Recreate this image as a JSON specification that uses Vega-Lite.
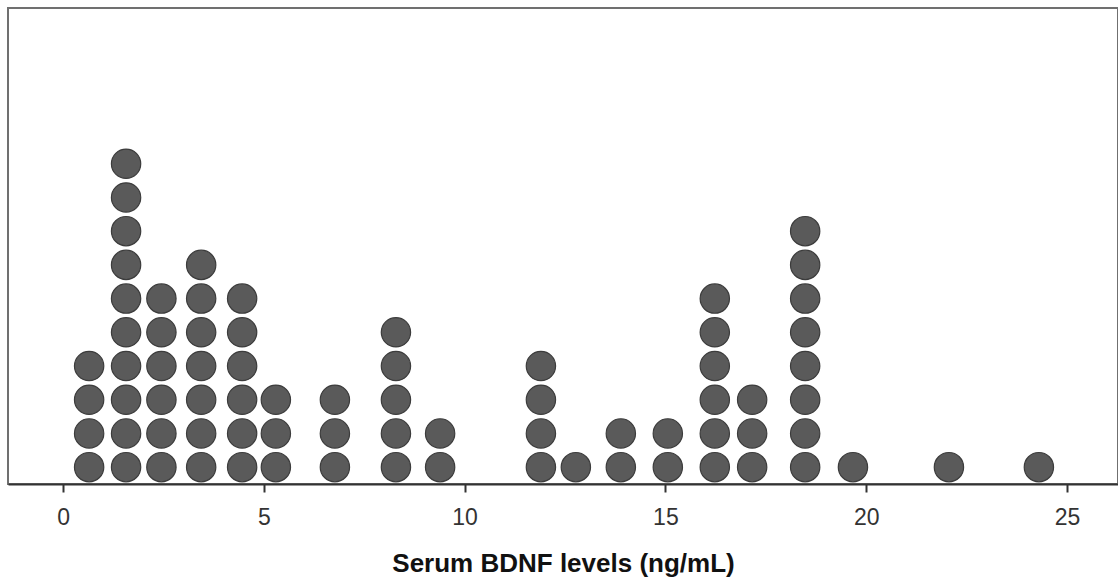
{
  "$schema": "https://vega.github.io/schema/vega-lite/v6.json",
  "autosize": "none",
  "width": 1110,
  "height": 476,
  "padding": {"left": 8, "top": 8, "right": 0, "bottom": 94},
  "background": "white",
  "config": {"view": {"stroke": "#707070", "strokeWidth": 2}},
  "data": {"values": [
    {"v":0.65,"k":1},{"v":0.65,"k":2},{"v":0.65,"k":3},{"v":0.65,"k":4},
    {"v":1.57,"k":1},{"v":1.57,"k":2},{"v":1.57,"k":3},{"v":1.57,"k":4},{"v":1.57,"k":5},{"v":1.57,"k":6},{"v":1.57,"k":7},{"v":1.57,"k":8},{"v":1.57,"k":9},{"v":1.57,"k":10},
    {"v":2.45,"k":1},{"v":2.45,"k":2},{"v":2.45,"k":3},{"v":2.45,"k":4},{"v":2.45,"k":5},{"v":2.45,"k":6},
    {"v":3.44,"k":1},{"v":3.44,"k":2},{"v":3.44,"k":3},{"v":3.44,"k":4},{"v":3.44,"k":5},{"v":3.44,"k":6},{"v":3.44,"k":7},
    {"v":4.46,"k":1},{"v":4.46,"k":2},{"v":4.46,"k":3},{"v":4.46,"k":4},{"v":4.46,"k":5},{"v":4.46,"k":6},
    {"v":5.30,"k":1},{"v":5.30,"k":2},{"v":5.30,"k":3},
    {"v":6.77,"k":1},{"v":6.77,"k":2},{"v":6.77,"k":3},
    {"v":8.29,"k":1},{"v":8.29,"k":2},{"v":8.29,"k":3},{"v":8.29,"k":4},{"v":8.29,"k":5},
    {"v":9.39,"k":1},{"v":9.39,"k":2},
    {"v":11.90,"k":1},{"v":11.90,"k":2},{"v":11.90,"k":3},{"v":11.90,"k":4},
    {"v":12.77,"k":1},
    {"v":13.89,"k":1},{"v":13.89,"k":2},
    {"v":15.06,"k":1},{"v":15.06,"k":2},
    {"v":16.23,"k":1},{"v":16.23,"k":2},{"v":16.23,"k":3},{"v":16.23,"k":4},{"v":16.23,"k":5},{"v":16.23,"k":6},
    {"v":17.16,"k":1},{"v":17.16,"k":2},{"v":17.16,"k":3},
    {"v":18.48,"k":1},{"v":18.48,"k":2},{"v":18.48,"k":3},{"v":18.48,"k":4},{"v":18.48,"k":5},{"v":18.48,"k":6},{"v":18.48,"k":7},{"v":18.48,"k":8},
    {"v":19.67,"k":1},
    {"v":22.06,"k":1},
    {"v":24.30,"k":1}
  ]},
  "mark": {"type": "point", "filled": true, "shape": "circle", "size": 860, "fill": "#5a5a5a", "stroke": "#3c3c3c", "strokeWidth": 1.2, "opacity": 1},
  "encoding": {
    "x": {
      "field": "v", "type": "quantitative",
      "scale": {"domain": [-1.37, 26.27], "nice": false, "zero": false},
      "axis": {
        "values": [0, 5, 10, 15, 20, 25],
        "grid": false,
        "title": "Serum BDNF levels (ng/mL)",
        "titleFont": "Liberation Sans",
        "titleFontSize": 26,
        "titleFontWeight": "bold",
        "titleColor": "#111111",
        "titlePadding": 21,
        "labelFont": "Liberation Sans",
        "labelFontSize": 23,
        "labelColor": "#333333",
        "labelPadding": 14,
        "domainColor": "#333333",
        "domainWidth": 2,
        "tickColor": "#333333",
        "tickWidth": 2,
        "tickSize": 8
      }
    },
    "y": {
      "field": "k", "type": "quantitative",
      "scale": {"domain": [0.5, 14.62], "nice": false, "zero": false},
      "axis": null
    }
  }
}
